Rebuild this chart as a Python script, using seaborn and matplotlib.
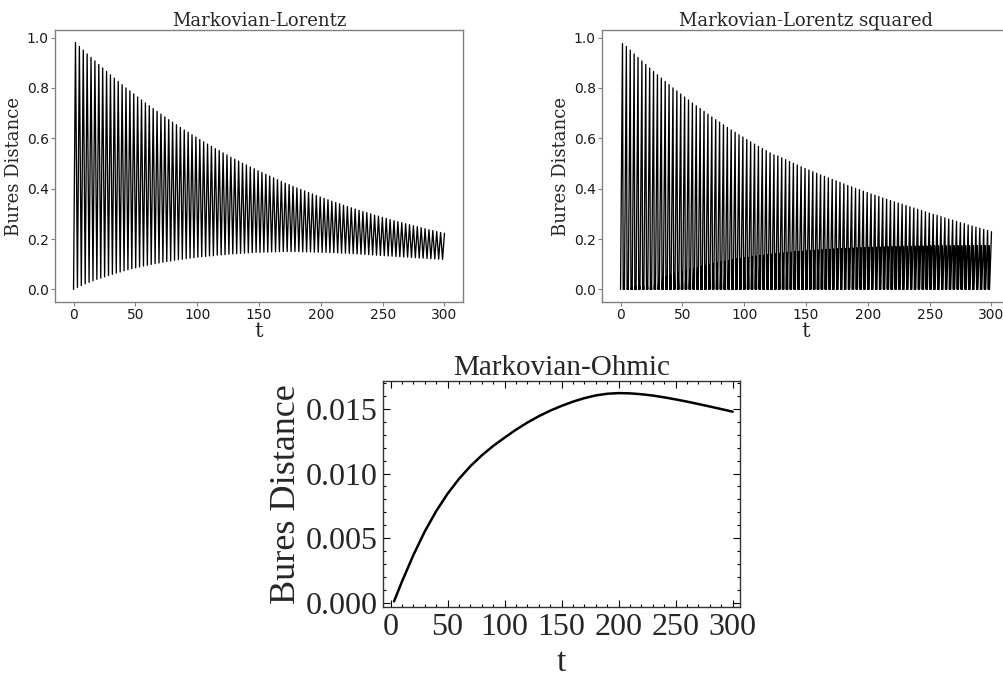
import numpy as np
import pandas as pd
import matplotlib
matplotlib.use("Agg")
import matplotlib.pyplot as plt
import seaborn as sns
from matplotlib.ticker import MultipleLocator, FormatStrFormatter

# spacing between successive peaks
period = 3.1416

# Markovian-Lorentz: peak and trough heights of each oscillation
lorentz_peaks = [
    0.980, 0.965, 0.950, 0.935, 0.921, 0.907, 0.893, 0.879, 0.865, 0.852,
    0.839, 0.826, 0.813, 0.800, 0.788, 0.776, 0.764, 0.752, 0.740, 0.729,
    0.718, 0.707, 0.696, 0.685, 0.674, 0.664, 0.654, 0.643, 0.633, 0.624,
    0.614, 0.605, 0.595, 0.586, 0.577, 0.568, 0.559, 0.551, 0.542, 0.534,
    0.525, 0.517, 0.509, 0.501, 0.494, 0.486, 0.479, 0.471, 0.464, 0.457,
    0.450, 0.443, 0.436, 0.429, 0.422, 0.416, 0.409, 0.403, 0.397, 0.391,
    0.385, 0.379, 0.373, 0.367, 0.361, 0.356, 0.350, 0.345, 0.340, 0.334,
    0.329, 0.324, 0.319, 0.314, 0.309, 0.305, 0.300, 0.295, 0.291, 0.286,
    0.282, 0.277, 0.273, 0.269, 0.265, 0.261, 0.257, 0.253, 0.249, 0.245,
    0.241, 0.237, 0.234, 0.230, 0.226, 0.223,
]
lorentz_troughs = [
    0.000, 0.008, 0.015, 0.022, 0.028, 0.034, 0.040, 0.045, 0.050, 0.055,
    0.060, 0.065, 0.069, 0.074, 0.078, 0.082, 0.086, 0.089, 0.093, 0.096,
    0.099, 0.102, 0.105, 0.108, 0.111, 0.113, 0.116, 0.118, 0.120, 0.122,
    0.124, 0.126, 0.128, 0.130, 0.131, 0.133, 0.134, 0.136, 0.137, 0.138,
    0.140, 0.141, 0.142, 0.143, 0.144, 0.145, 0.146, 0.147, 0.147, 0.148,
    0.148, 0.149, 0.149, 0.150, 0.150, 0.150, 0.150, 0.150, 0.150, 0.149,
    0.149, 0.149, 0.148, 0.148, 0.147, 0.147, 0.146, 0.146, 0.145, 0.144,
    0.144, 0.143, 0.142, 0.141, 0.140, 0.139, 0.138, 0.137, 0.136, 0.135,
    0.134, 0.133, 0.132, 0.131, 0.130, 0.129, 0.128, 0.127, 0.126, 0.125,
    0.124, 0.123, 0.122, 0.121, 0.120, 0.119,
]

# Markovian-Lorentz squared: main peaks and the small secondary bumps
squared_peaks = [
    0.976, 0.965, 0.950, 0.935, 0.921, 0.907, 0.893, 0.879, 0.865, 0.852,
    0.839, 0.826, 0.813, 0.800, 0.788, 0.776, 0.764, 0.752, 0.740, 0.729,
    0.718, 0.707, 0.696, 0.685, 0.674, 0.664, 0.654, 0.643, 0.633, 0.624,
    0.614, 0.605, 0.595, 0.586, 0.577, 0.568, 0.559, 0.551, 0.542, 0.534,
    0.530, 0.522, 0.515, 0.508, 0.501, 0.494, 0.487, 0.480, 0.474, 0.467,
    0.461, 0.455, 0.449, 0.443, 0.437, 0.431, 0.425, 0.419, 0.413, 0.407,
    0.401, 0.396, 0.390, 0.385, 0.379, 0.374, 0.369, 0.363, 0.358, 0.353,
    0.348, 0.343, 0.338, 0.333, 0.328, 0.323, 0.318, 0.313, 0.308, 0.303,
    0.298, 0.294, 0.289, 0.284, 0.279, 0.275, 0.270, 0.265, 0.261, 0.256,
    0.252, 0.247, 0.243, 0.238, 0.234, 0.229,
]
squared_minor = [
    0.001, 0.004, 0.008, 0.012, 0.017, 0.022, 0.027, 0.032, 0.037, 0.042,
    0.047, 0.052, 0.057, 0.062, 0.067, 0.071, 0.075, 0.079, 0.083, 0.087,
    0.091, 0.095, 0.098, 0.102, 0.105, 0.108, 0.111, 0.114, 0.117, 0.120,
    0.122, 0.125, 0.127, 0.129, 0.131, 0.133, 0.135, 0.137, 0.139, 0.141,
    0.143, 0.144, 0.146, 0.147, 0.149, 0.150, 0.151, 0.153, 0.154, 0.155,
    0.156, 0.157, 0.158, 0.159, 0.160, 0.161, 0.162, 0.163, 0.163, 0.164,
    0.165, 0.165, 0.166, 0.167, 0.167, 0.168, 0.168, 0.169, 0.169, 0.170,
    0.170, 0.170, 0.171, 0.171, 0.171, 0.172, 0.172, 0.172, 0.172, 0.173,
    0.173, 0.173, 0.173, 0.173, 0.173, 0.174, 0.174, 0.174, 0.174, 0.174,
    0.174, 0.174, 0.174, 0.174, 0.174,
]

# Markovian-Ohmic smooth curve
ohmic_t = [3, 10, 20, 30, 40, 50, 60, 70, 80, 90, 100, 110, 120, 130, 140,
           150, 160, 170, 180, 190, 200, 210, 220, 230, 240, 250, 260, 270,
           280, 290, 300]
ohmic_d = [0.00010, 0.00164, 0.00369, 0.00552, 0.00709, 0.00844, 0.00959,
           0.01057, 0.01141, 0.01214, 0.01278, 0.01340, 0.01395, 0.01444,
           0.01487, 0.01524, 0.01557, 0.01584, 0.01605, 0.01618, 0.01623,
           0.01621, 0.01614, 0.01604, 0.01590, 0.01574, 0.01557, 0.01538,
           0.01519, 0.01499, 0.01479]


def lorentz_frame():
    rows = []
    for k, (lo, hi) in enumerate(zip(lorentz_troughs, lorentz_peaks)):
        rows.append((k * period, lo))
        rows.append((k * period + 0.5 * period, hi))
    return pd.DataFrame(rows, columns=["t", "d"])


def squared_frame():
    rows = []
    for k, hi in enumerate(squared_peaks):
        rows.append((k * period, 0.0))
        rows.append((k * period + 0.5 * period, hi))
        if k < len(squared_minor):
            rows.append((k * period + 0.68 * period, 0.0))
            rows.append((k * period + 0.84 * period, squared_minor[k]))
    return pd.DataFrame(rows, columns=["t", "d"])


sns.set_theme(style="white")
plt.rcParams["font.family"] = ["DejaVu Sans"]

fig = plt.figure(figsize=(10.04, 6.78), dpi=100)
W, H = 1004, 678
ax1 = fig.add_axes([55 / W, 1 - 302 / H, 408 / W, 272 / H])
ax2 = fig.add_axes([602 / W, 1 - 302 / H, 408 / W, 272 / H])
ax3 = fig.add_axes([383.3 / W, 1 - 607.3 / H, 356.7 / W, 226.6 / H])

top = [(ax1, lorentz_frame(), "Markovian-Lorentz"),
       (ax2, squared_frame(), "Markovian-Lorentz squared")]
for ax, df, title in top:
    sns.lineplot(data=df, x="t", y="d", ax=ax, color="black", lw=0.95,
                 estimator=None, sort=False)
    ax.set_xlim(-15, 315)
    ax.set_ylim(-0.05, 1.03)
    ax.set_xticks([0, 50, 100, 150, 200, 250, 300])
    ax.set_yticks([0.0, 0.2, 0.4, 0.6, 0.8, 1.0])
    ax.set_title(title, family="DejaVu Serif", fontsize=13, pad=3)
    ax.set_xlabel("t", family="DejaVu Serif", fontsize=15, labelpad=0)
    ax.set_ylabel("Bures Distance", family="DejaVu Serif", fontsize=13,
                  labelpad=3)
    ax.tick_params(labelsize=10, colors="0.1", length=3, width=0.8,
                   pad=1.5, direction="out", bottom=True, left=True)
    ax.tick_params(color="0.5")
    for s in ax.spines.values():
        s.set_color("0.5")
        s.set_linewidth(1.0)

serif = "Liberation Serif"
sns.lineplot(x=ohmic_t, y=ohmic_d, ax=ax3, color="black", lw=1.8)
ax3.set_xlim(-6.4, 306.4)
ax3.set_ylim(-0.00036, 0.01719)
ax3.xaxis.set_major_locator(MultipleLocator(50))
ax3.xaxis.set_minor_locator(MultipleLocator(10))
ax3.yaxis.set_major_locator(MultipleLocator(0.005))
ax3.yaxis.set_minor_locator(MultipleLocator(0.001))
ax3.yaxis.set_major_formatter(FormatStrFormatter("%.3f"))
ax3.tick_params(which="both", direction="in", top=True, right=True,
                bottom=True, left=True, color="black", width=0.8)
ax3.tick_params(which="major", length=5, labelsize=23, pad=4)
ax3.tick_params(which="minor", length=2.5)
for lab in ax3.get_xticklabels() + ax3.get_yticklabels():
    lab.set_family(serif)
ax3.set_title("Markovian-Ohmic", family=serif, fontsize=21, pad=3)
ax3.set_xlabel("t", family=serif, fontsize=24, labelpad=4)
ax3.set_ylabel("Bures Distance", family=serif, fontsize=26, labelpad=2)
for s in ax3.spines.values():
    s.set_color("0.2")
    s.set_linewidth(1.0)

fig.savefig("out.png", dpi=100)
